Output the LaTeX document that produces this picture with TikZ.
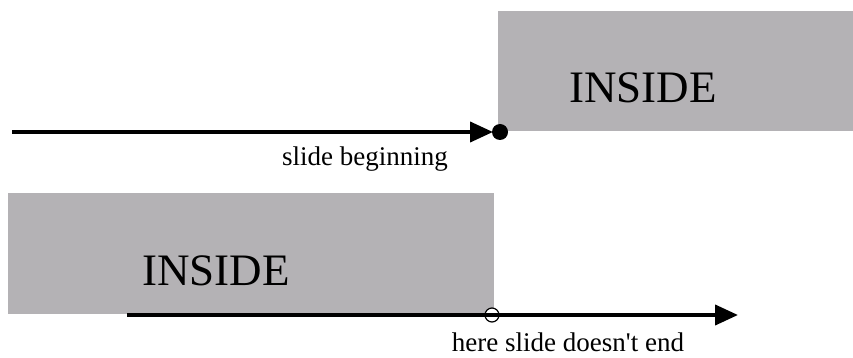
\documentclass[tikz,border=0pt]{standalone}
\usepackage{fontspec}
\setmainfont{Liberation Serif}[Ligatures=TeXOff]
\usetikzlibrary{calc,positioning,arrows.meta}
\definecolor{insidegray}{RGB}{180,178,181}

\begin{document}
\begin{tikzpicture}[x=1pt,y=-1pt,
            every node/.append style={black,inner sep=0pt},
            every path/.append style={line width=4pt},
            bigtext/.style={font=\fontsize{45}{45}\selectfont},
            smalltext/.style={font=\fontsize{27}{27}\selectfont},
            tip/.style={-{Triangle[length=23pt,width=20pt]}}
        ]
            \useasboundingbox (0,0) rectangle (853,358);

            % grey regions
            \fill[insidegray] (498,11) rectangle (853,131);
            \fill[insidegray] (8,193) rectangle (494,314);
            \node[bigtext,anchor=base] (insideA) at (643,103) {INSIDE};
            \node[bigtext,anchor=base] (insideB) at (216,285) {INSIDE};

            % entering
            \coordinate (startA) at (12,132);
            \coordinate (dotA) at (500,132);
            \draw[tip,shorten >=7pt] (startA) -- (dotA);
            \fill (dotA) circle[radius=8pt];
            \node[smalltext,anchor=base] (labelA) at (365,166) {slide beginning};

            % leaving
            \coordinate (startB) at (127,315);
            \coordinate (circB) at (492,315);
            \coordinate (endB) at (738,315);
            \draw[line width=1.2pt,fill=white] (circB) circle[radius=7pt];
            \draw[tip] (startB) -- (endB);
            \node[smalltext,anchor=base] (labelB) at (568,351) {here slide doesn't end};
        \end{tikzpicture}
\end{document}
